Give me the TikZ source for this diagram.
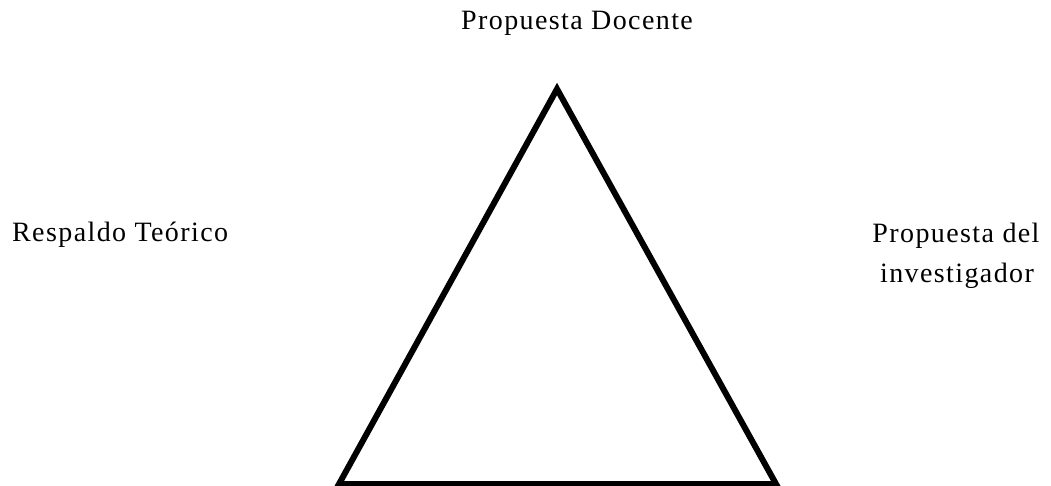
\documentclass[tikz,border=0pt]{standalone}
\usepackage{fontspec}
\setmainfont{Liberation Serif}[LetterSpace=5]
\begin{document}
\begin{tikzpicture}[x=1pt,y=-1pt,
  lbl/.style={inner sep=0pt,font=\fontsize{28}{36}\selectfont},
  tri/.style={line width=6pt,draw=black}]
\useasboundingbox (0,0) rectangle (1051,486);
\coordinate (A) at (557,89);
\coordinate (B) at (339,484);
\coordinate (C) at (776,484);
\draw[tri] (A) -- (B) -- (C) -- cycle;
\node[lbl,anchor=base west] (top) at (461,30) {Propuesta Docente};
\node[lbl,anchor=base west] (left) at (12,242) {Respaldo Teórico};
\node[lbl,anchor=base] (r1) at (956,243) {Propuesta del};
\node[lbl,anchor=base] (r2) at (957,282) {investigador};
\end{tikzpicture}
\end{document}
